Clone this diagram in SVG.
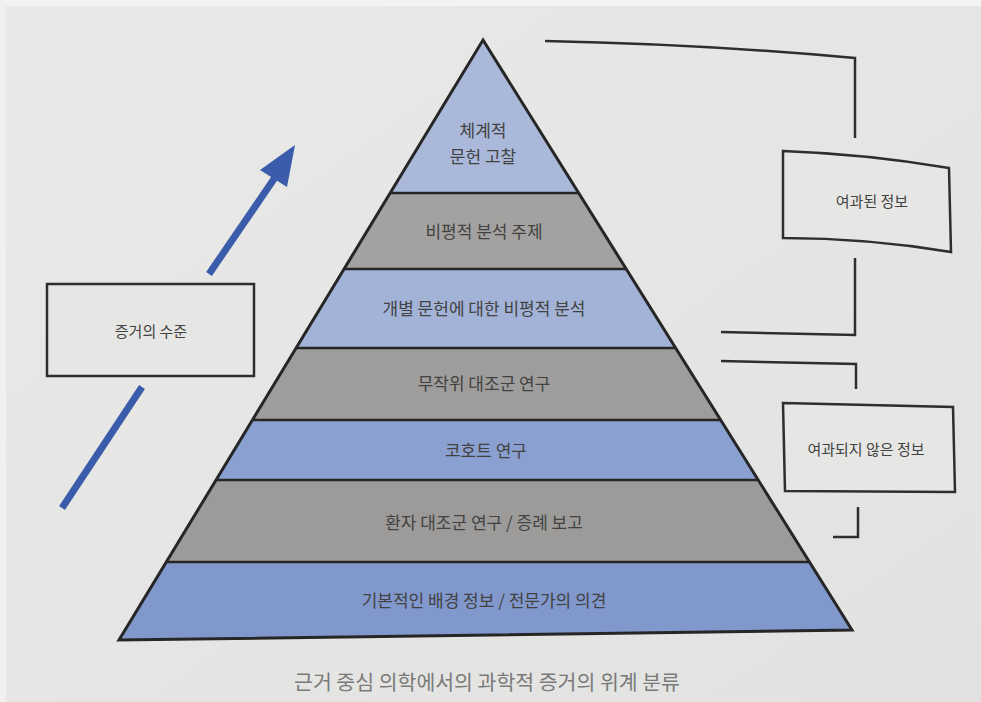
<svg xmlns="http://www.w3.org/2000/svg" width="981" height="702" viewBox="0 0 981 702">
  <defs>
    <linearGradient id="bg" x1="0" y1="0" x2="1" y2="1">
      <stop offset="0" stop-color="#e9e9e7"/>
      <stop offset="1" stop-color="#e2e2e0"/>
    </linearGradient>
    <style>
      .t { font-family: "Noto Sans CJK KR", "Noto Sans", sans-serif; fill: #424242; text-anchor: middle; }
      .band { font-size: 17px; }
      .box { fill: #e6e6e4; stroke: #2e2e2e; stroke-width: 2.5; }
      .br { fill: none; stroke: #2e2e2e; stroke-width: 2.5; }
      .sep { stroke: #262626; stroke-width: 2.5; }
      .blue { fill: #3a5cab; }
    </style>
  </defs>
  <rect x="0" y="0" width="981" height="702" fill="url(#bg)"/>
  <rect x="0" y="0" width="981" height="6" fill="#f3f3f2"/>
  <rect x="0" y="0" width="6" height="702" fill="#f0f0ef"/>

  <g id="pyramid">
    <g id="band1">
      <polygon points="483,40 578.7,193 390.2,193" fill="#aab8da"/>
      <text class="t band" x="483" y="137">체계적</text>
      <text class="t band" x="483" y="163">문헌 고찰</text>
    </g>
    <g id="band2">
      <polygon points="390.2,193 578.7,193 626.2,269 344.1,269" fill="#a3a2a0"/>
      <text class="t band" x="484" y="238">비평적 분석 주제</text>
    </g>
    <g id="band3">
      <polygon points="344.1,269 626.2,269 675.6,348 296.1,348" fill="#a3b3d7"/>
      <text class="t band" x="484" y="315">개별 문헌에 대한 비평적 분석</text>
    </g>
    <g id="band4">
      <polygon points="296.1,348 675.6,348 720.7,420 252.5,420" fill="#9e9d9b"/>
      <text class="t band" x="484" y="390">무작위 대조군 연구</text>
    </g>
    <g id="band5">
      <polygon points="252.5,420 720.7,420 758.2,480 216.1,480" fill="#89a0d0"/>
      <text class="t band" x="486" y="457">코호트 연구</text>
    </g>
    <g id="band6">
      <polygon points="216.1,480 758.2,480 809.5,562 166.3,562" fill="#9c9b99"/>
      <text class="t band" x="484" y="529">환자 대조군 연구 / 증례 보고</text>
    </g>
    <g id="band7">
      <polygon points="166.3,562 809.5,562 852,630 119,640" fill="#8098cc"/>
      <text class="t band" x="484" y="607">기본적인 배경 정보 / 전문가의 의견</text>
    </g>
    <g id="pyramid-lines">
      <line class="sep" x1="390.2" y1="193" x2="578.7" y2="193"/>
      <line class="sep" x1="344.1" y1="269" x2="626.2" y2="269"/>
      <line class="sep" x1="296.1" y1="348" x2="675.6" y2="348"/>
      <line class="sep" x1="252.5" y1="420" x2="720.7" y2="420"/>
      <line class="sep" x1="216.1" y1="480" x2="758.2" y2="480"/>
      <line class="sep" x1="166.3" y1="562" x2="809.5" y2="562"/>
      <polygon points="483,40 852,630 119,640" fill="none" stroke="#262626" stroke-width="3" stroke-linejoin="miter"/>
    </g>
  </g>

  <g id="level-box">
    <rect class="box" x="47" y="284" width="207" height="92"/>
    <text class="t" x="151" y="337" font-size="15">증거의 수준</text>
  </g>

  <g id="filtered-box">
    <path class="box" d="M783,151 Q866,154 949,168 L951,252 Q867,238 783,238 Z"/>
    <text class="t" x="872" y="207" font-size="15">여과된 정보</text>
  </g>

  <g id="unfiltered-box">
    <path class="box" d="M783,403 L953,407 L955,492 L785,491 Z"/>
    <text class="t" x="866" y="455" font-size="15">여과되지 않은 정보</text>
  </g>

  <g id="connectors">
    <path class="br" d="M545,41 Q700,44 855,58 L855,138"/>
    <path class="br" d="M855,258 L855,335 L721,332"/>
    <path class="br" d="M721,361 L856,364 L856,389"/>
    <path class="br" d="M858,507 L858,537 L833,537"/>
    <line x1="62" y1="508" x2="142" y2="387" stroke="#3a5cab" stroke-width="7"/>
    <line x1="209" y1="274" x2="276" y2="176" stroke="#3a5cab" stroke-width="7"/>
    <polygon class="blue" points="295,145 287,187 260,170"/>
  </g>

  <g id="caption">
    <text class="t" x="487" y="690" font-size="20.5" style="fill:#7a7a7a">근거 중심 의학에서의 과학적 증거의 위계 분류</text>
  </g>
</svg>
